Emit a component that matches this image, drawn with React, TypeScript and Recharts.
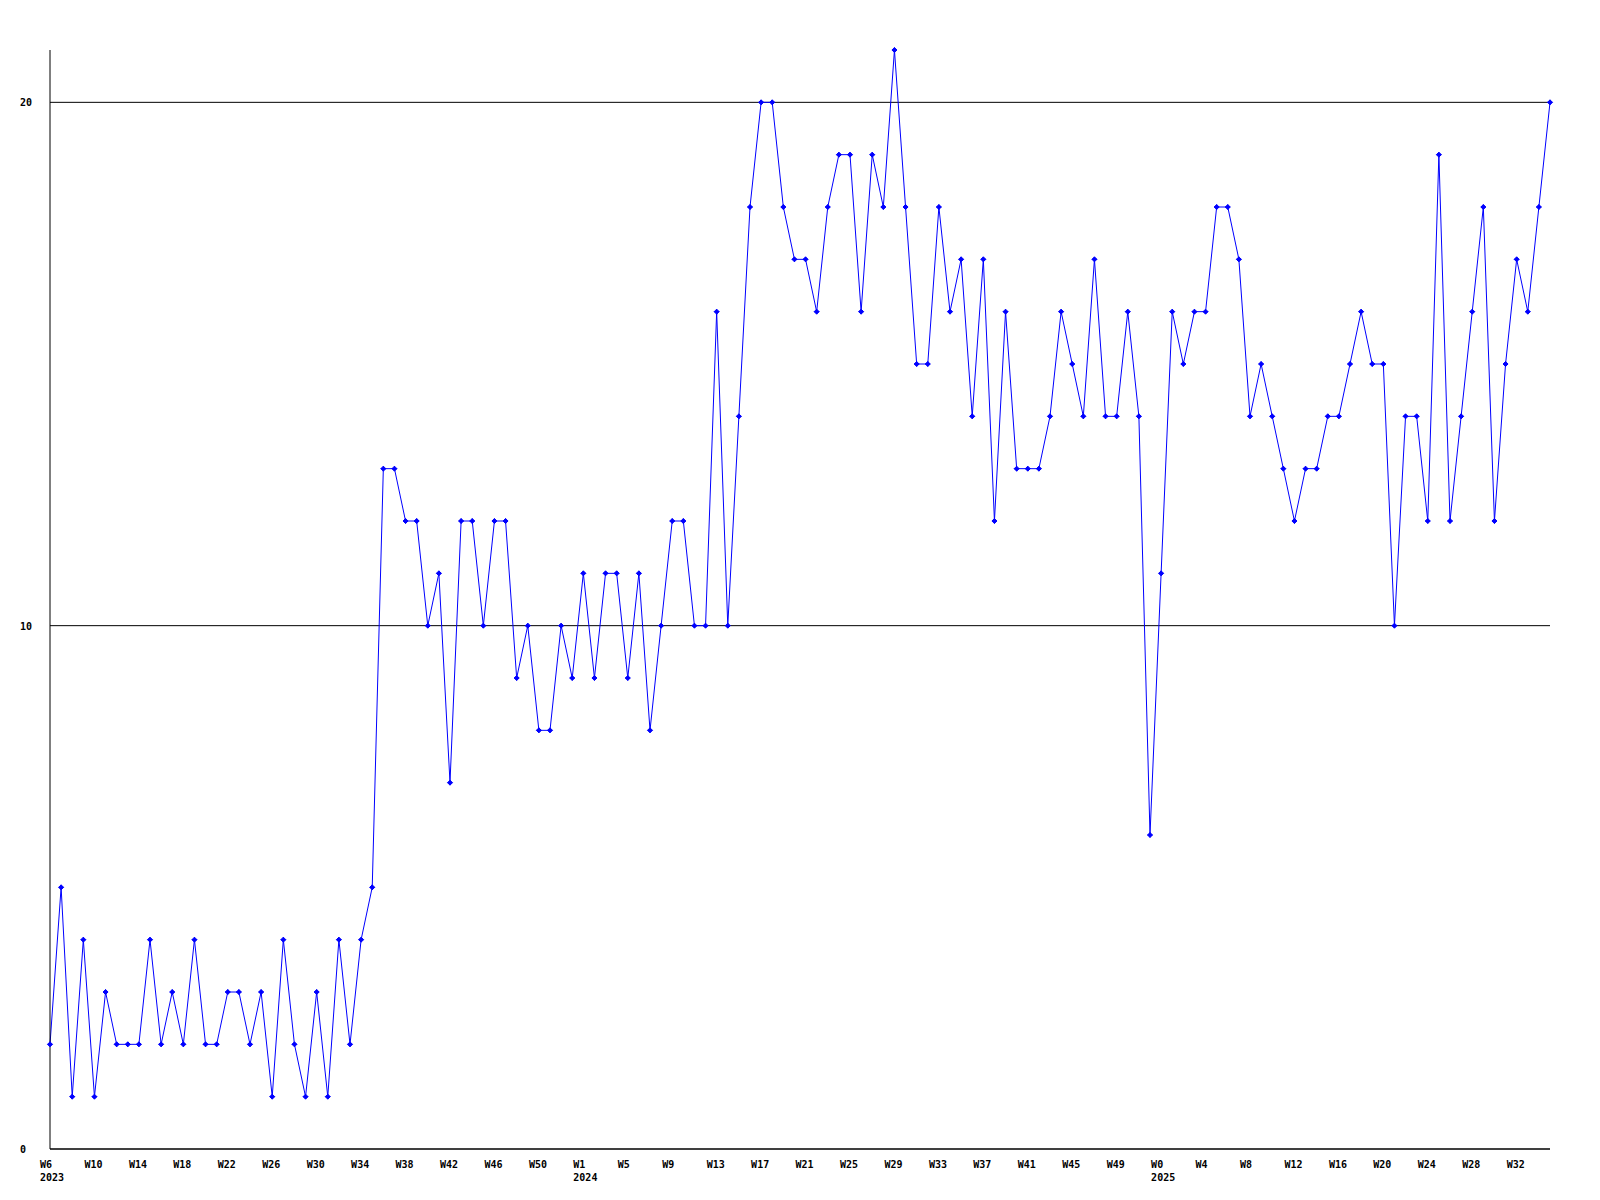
import React from 'react';
import { LineChart, Line, XAxis, YAxis, CartesianGrid } from 'recharts';

// weekly counts, one array per year
const years = ['2023', '2024', '2025'];
const firstWeek = [6, 1, 0];
const lastWeek = [53, 52, 35];

const counts2023 = [
  2, 5, 1, 4, 1, 3, 2, 2, 2, 4, 2, 3, 2, 4, 2, 2, 3, 3, 2, 3, 1, 4, 2, 1, 3, 1, 4, 2, 4, 5,
  13, 13, 12, 12, 10, 11, 7, 12, 12, 10, 12, 12, 9, 10, 8, 8, 10, 9,
];
const counts2024 = [
  11, 9, 11, 11, 9, 11, 8, 10, 12, 12, 10, 10,
  16, 10, 14, 18, 20, 20, 18, 17, 17, 16, 18, 19, 19, 16, 19, 18, 21, 18, 15, 15, 18, 16, 17, 14, 17, 12,
  16, 13, 13, 13, 14, 16, 15, 14, 17, 14, 14, 16, 14, 6,
];
const counts2025 = [
  11, 16, 15, 16, 16, 18, 18, 17, 14, 15, 14, 13, 12,
  13, 13, 14, 14, 15, 16, 15, 15, 10, 14, 14, 12, 19, 12, 14, 16, 18, 12, 15, 17, 16, 18, 20,
];

const yTicks = [0, 10, 20];

const allCounts = [counts2023, counts2024, counts2025];

const data: { key: string; week: string; year: string; value: number }[] = [];
years.forEach((year, yi) => {
  for (let w = firstWeek[yi]; w <= lastWeek[yi]; w++) {
    data.push({
      key: `${year}-W${w}`,
      week: `W${w}`,
      year: w === firstWeek[yi] ? year : '',
      value: allCounts[yi][w - firstWeek[yi]],
    });
  }
});

const FONT = '"DejaVu Sans Mono", monospace';

const WeekTick = ({ x, y, payload }: any) => {
  const row = data[payload.index] || data.find((d) => d.key === payload.value);
  if (!row) return null;
  return (
    <g>
      <text x={x - 10} y={y + 11} textAnchor="start" fontFamily={FONT} fontSize={10} fontWeight="bold" fill="#000">
        {row.week}
      </text>
      {row.year && (
        <text x={x - 10} y={y + 24} textAnchor="start" fontFamily={FONT} fontSize={10} fontWeight="bold" fill="#000">
          {row.year}
        </text>
      )}
    </g>
  );
};

const CountTick = ({ y, payload }: any) => (
  <text x={20} y={y + 4} textAnchor="start" fontFamily={FONT} fontSize={10} fontWeight="bold" fill="#000">
    {payload.value}
  </text>
);

const Marker = ({ cx, cy, index }: any) => (
  <path
    key={index}
    d={`M${cx - 2.5},${cy} L${cx},${cy - 2.5} L${cx + 2.5},${cy} L${cx},${cy + 2.5} Z M${cx - 2.5},${cy} L${cx + 2.5},${cy} M${cx},${cy - 2.5} L${cx},${cy + 2.5}`}
    fill="#0000ff"
    stroke="#0000ff"
    strokeWidth={1}
  />
);

export default function App() {
  return (
    <div style={{ width: 1600, height: 1200, background: '#fff' }}>
      <style>{'body { margin: 0; }'}</style>
      <LineChart width={1600} height={1200} data={data} margin={{ top: 50, right: 50, left: 0, bottom: 0 }}>
        <CartesianGrid vertical={false} horizontalValues={yTicks} stroke="#000" strokeWidth={1} />
        <XAxis
          dataKey="key"
          interval={3}
          height={51}
          axisLine={{ stroke: '#000' }}
          tickLine={false}
          tick={<WeekTick />}
        />
        <YAxis
          width={50}
          domain={[0, 21]}
          ticks={yTicks}
          axisLine={{ stroke: '#000' }}
          tickLine={false}
          tick={<CountTick />}
        />
        <Line
          type="linear"
          dataKey="value"
          stroke="#0000ff"
          strokeWidth={1}
          dot={<Marker />}
          activeDot={false}
          isAnimationActive={false}
        />
      </LineChart>
    </div>
  );
}
